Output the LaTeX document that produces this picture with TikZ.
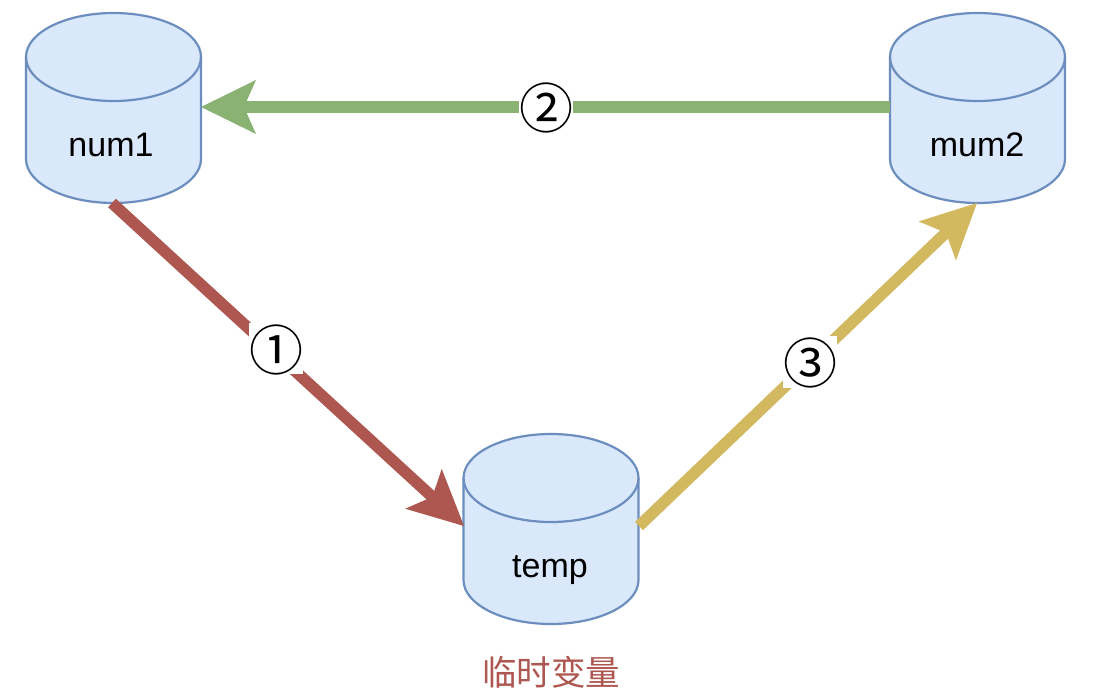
\documentclass[tikz,border=0pt]{standalone}
\usepackage{fontspec}
\setmainfont{Liberation Sans}
\newfontfamily\cjk{Noto Sans CJK SC}
\usetikzlibrary{arrows.meta}
\definecolor{cylfill}{HTML}{DAE8FC}
\definecolor{cylline}{HTML}{6C8EBF}
\definecolor{redl}{HTML}{AE5650}
\definecolor{greenl}{HTML}{8AB272}
\definecolor{yell}{HTML}{D2B85F}
\newcommand{\cyl}[3]{% cx, top, bottom
\fill[cylfill] (#1-87.5,-#2-44) arc[start angle=180,end angle=0,x radius=87.5,y radius=44] -- (#1+87.5,-#3+44) arc[start angle=0,end angle=-180,x radius=87.5,y radius=44] -- cycle;
\draw[cylline,line width=2.2pt] (#1-87.5,-#2-44) arc[start angle=180,end angle=-180,x radius=87.5,y radius=44];
\draw[cylline,line width=2.2pt] (#1-87.5,-#2-44) -- (#1-87.5,-#3+44) arc[start angle=180,end angle=360,x radius=87.5,y radius=44] -- (#1+87.5,-#2-44);
}
\tikzset{x=1pt,y=1pt,
 lab/.style={font=\fontsize{34}{38}\selectfont,text=black,inner sep=0pt},
 circ/.style={font=\fontsize{54}{58}\selectfont\cjk,fill=white,inner sep=0pt,text=black,text height=47pt,text depth=4pt},
 arr/.style={line width=11.5pt,-{Stealth[width=54pt,length=55pt,inset=12pt,line width=0pt,sep=0pt]}}
}
\begin{document}
\begin{tikzpicture}
\useasboundingbox (0,0) rectangle (1100,-700);
\fill[white] (0,0) rectangle (1100,-700);
\cyl{113.5}{13}{203}
\cyl{977.5}{13}{203}
\cyl{551}{434}{624}
\node[lab] (a) at (111,-145) {num1};
\node[lab] (b) at (977,-145) {mum2};
\node[lab] (c) at (550,-570) {temp};
\coordinate (as) at (112,-203);
\coordinate (ae) at (464,-526);
\coordinate (bs) at (890,-107);
\coordinate (be) at (201,-107);
\coordinate (cs) at (639,-526);
\coordinate (ce) at (977,-203);
\draw[arr,redl] (as) -- (ae);
\draw[arr,greenl] (bs) -- (be);
\draw[arr,yell] (cs) -- (ce);
\node[circ] (n1) at (276,-349) {①};
\node[circ] (n2) at (546,-107) {②};
\node[circ] (n3) at (810,-362) {③};
\node[font=\fontsize{34.5}{38}\selectfont\cjk,text=redl,inner sep=0pt] (t) at (551,-672) {临时变量};
\end{tikzpicture}
\end{document}
